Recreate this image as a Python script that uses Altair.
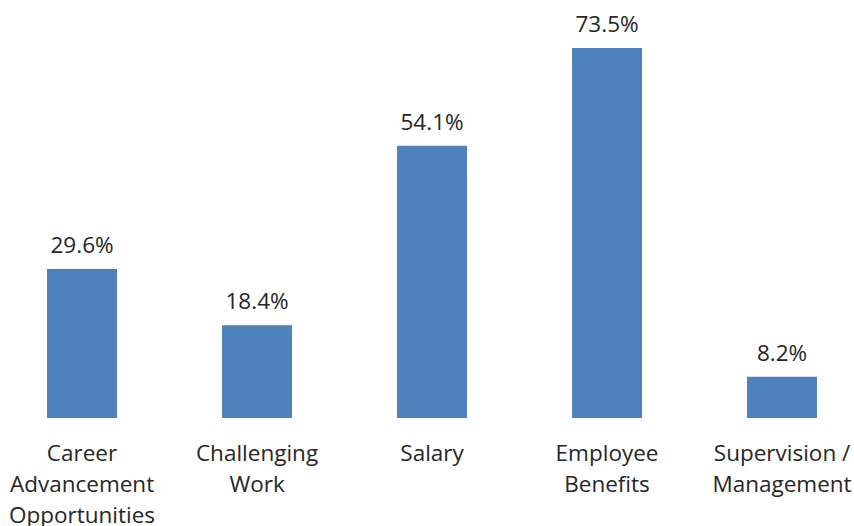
import altair as alt
import pandas as pd

categories = ["Career|Advancement|Opportunities", "Challenging|Work", "Salary",
              "Employee|Benefits", "Supervision /|Management"]
values = [29.6, 18.4, 54.1, 73.5, 8.2]
labels = ["29.6%", "18.4%", "54.1%", "73.5%", "8.2%"]

df = pd.DataFrame({"cat": categories, "val": values, "lab": labels})

FONT = "Open Sans"
x = alt.X("cat:N", sort=categories, title=None,
          scale=alt.Scale(paddingInner=0.6, paddingOuter=0.24, align=0.56),
          axis=alt.Axis(labelExpr="split(datum.label, '|')", labelAngle=0,
                        labelFontSize=22.5, labelFont=FONT, labelColor="#262626",
                        labelLineHeight=31, labelBaseline="alphabetic", labelPadding=42,
                        domain=False, ticks=False, labelAlign="center"))
y = alt.Y("val:Q", scale=alt.Scale(domain=[0, 83.03], nice=False), axis=None)

bars = alt.Chart(df).mark_bar(color="#4F81BD").encode(x=x, y=y)
text = alt.Chart(df).mark_text(baseline="alphabetic", dy=-16, fontSize=22.5, font=FONT,
                               color="#262626").encode(x=x, y=y, text="lab:N")

chart = (bars + text).properties(width=854, height=418,
                                 padding={"left": 0, "top": 0, "right": 0, "bottom": 108},
                                 autosize="none",
                                 background="white").configure_view(stroke=None)
chart.save("out.html", embed_options={"renderer": "svg", "actions": False})
